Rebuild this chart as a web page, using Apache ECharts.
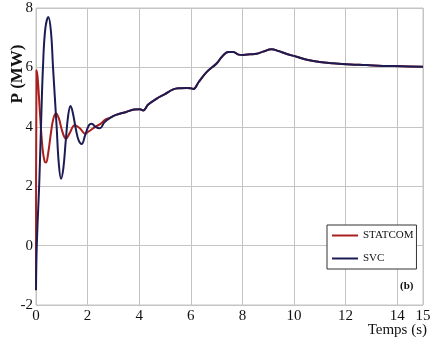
<!DOCTYPE html>
<html><head><meta charset="utf-8">
<script src="https://cdn.jsdelivr.net/npm/echarts@6/dist/echarts.min.js"></script>
<style>html,body{margin:0;padding:0;background:#fff}#c{width:436px;height:348px}</style>
</head><body><div id="c"></div>
<script>
// Data (time in s, power in MW)
const xTicks = [0, 2, 4, 6, 8, 10, 12, 14, 15];
const yTicks = [-2, 0, 2, 4, 6, 8];
const statcomStart = [[0,-1.3],[0.02,5.9],[0.07,5.6],[0.15,4.5],[0.25,3.3],[0.33,2.85],[0.39,2.8],[0.47,3.1],[0.58,3.8],[0.68,4.3],[0.78,4.45],[0.88,4.3],[1.0,3.9],[1.1,3.65],[1.16,3.6],[1.3,3.78],[1.5,4.05],[1.7,3.95],[1.9,3.77],[2.05,3.85],[2.3,4.0],[2.5,4.1],[2.7,4.25]];
const svcStart = [[0,-1.5],[0.03,0],[0.13,2.2],[0.2,4.2],[0.27,6.0],[0.36,7.3],[0.48,7.7],[0.58,7.2],[0.66,6.0],[0.8,4.0],[0.88,2.8],[0.97,2.25],[1.06,2.6],[1.15,3.5],[1.25,4.4],[1.34,4.7],[1.42,4.5],[1.55,3.9],[1.65,3.55],[1.77,3.42],[1.9,3.7],[2.05,4.05],[2.16,4.1],[2.3,4.0],[2.48,3.95],[2.65,4.15]];
const commonTail = [[2.87,4.3],[3.1,4.4],[3.5,4.5],[3.8,4.58],[4.03,4.59],[4.15,4.55],[4.35,4.75],[4.68,4.95],[5.0,5.1],[5.32,5.26],[5.6,5.3],[5.84,5.31],[6.0,5.3],[6.1,5.27],[6.3,5.5],[6.62,5.85],[7.0,6.13],[7.2,6.35],[7.45,6.52],[7.65,6.52],[7.85,6.43],[8.03,6.42],[8.3,6.44],[8.55,6.46],[8.8,6.53],[9.13,6.61],[9.4,6.55],[9.72,6.45],[10.1,6.36],[10.5,6.26],[11.0,6.18],[11.5,6.14],[12.2,6.1],[12.8,6.08],[13.45,6.05],[14.2,6.04],[15,6.02]];
const names = ['STATCOM', 'SVC'];

const chart = echarts.init(document.getElementById('c'));
const font = '"Liberation Serif", "Times New Roman", serif';
chart.setOption({
  backgroundColor: '#fff',
  animation: false,
  grid: {left: 36, right: 13, top: 8, bottom: 43, containLabel: false, outerBoundsMode: 'none',
    show: true, borderColor: '#c4c4c4', borderWidth: 1},
  xAxis: {type: 'value', min: 0, max: 15, interval: 2,
    axisLine: {show: false}, axisTick: {show: false},
    splitLine: {show: true, lineStyle: {color: '#c4c4c4', width: 1}},
    axisLabel: {color: '#111', fontFamily: font, fontSize: 15, margin: 4, showMaxLabel: true,
      formatter: v => xTicks.includes(v) ? String(v) : ''}
  },
  yAxis: {type: 'value', min: -2, max: 8, interval: 2,
    axisLine: {show: false}, axisTick: {show: false},
    splitLine: {show: true, lineStyle: {color: '#c4c4c4', width: 1}},
    axisLabel: {color: '#111', fontFamily: font, fontSize: 15, margin: 3,
      formatter: v => yTicks.includes(v) ? String(v) : ''}
  },
  legend: {orient: 'vertical', left: 327, top: 225,
    backgroundColor: '#fff', borderColor: '#333', borderWidth: 1, padding: [5, 3, 5, 5],
    itemWidth: 26, itemHeight: 2, itemGap: 12, icon: 'rect',
    textStyle: {fontFamily: font, fontSize: 11, color: '#111'},
    data: names},
  graphic: [
    {type: 'text', x: 18, y: 74, rotation: Math.PI / 2,
      style: {text: 'P (MW)', fontFamily: font, fontSize: 17, fontWeight: 'bold', fill: '#111', align: 'center', verticalAlign: 'middle'}},
    {type: 'text', right: 9, top: 323, style: {text: 'Temps (s)', fontFamily: font, fontSize: 15, fill: '#111'}},
    {type: 'text', left: 400, top: 281, style: {text: '(b)', fontFamily: font, fontSize: 11, fontWeight: 'bold', fill: '#111'}}
  ],
  series: [
    {name: names[0], type: 'line', smooth: 0.4, showSymbol: false, color: '#a8201c',
      lineStyle: {width: 2}, data: statcomStart.concat(commonTail), z: 2},
    {name: names[1], type: 'line', smooth: 0.4, showSymbol: false, color: '#1c1c55',
      lineStyle: {width: 2}, data: svcStart.concat(commonTail), z: 3}
  ]
});
</script></body></html>
